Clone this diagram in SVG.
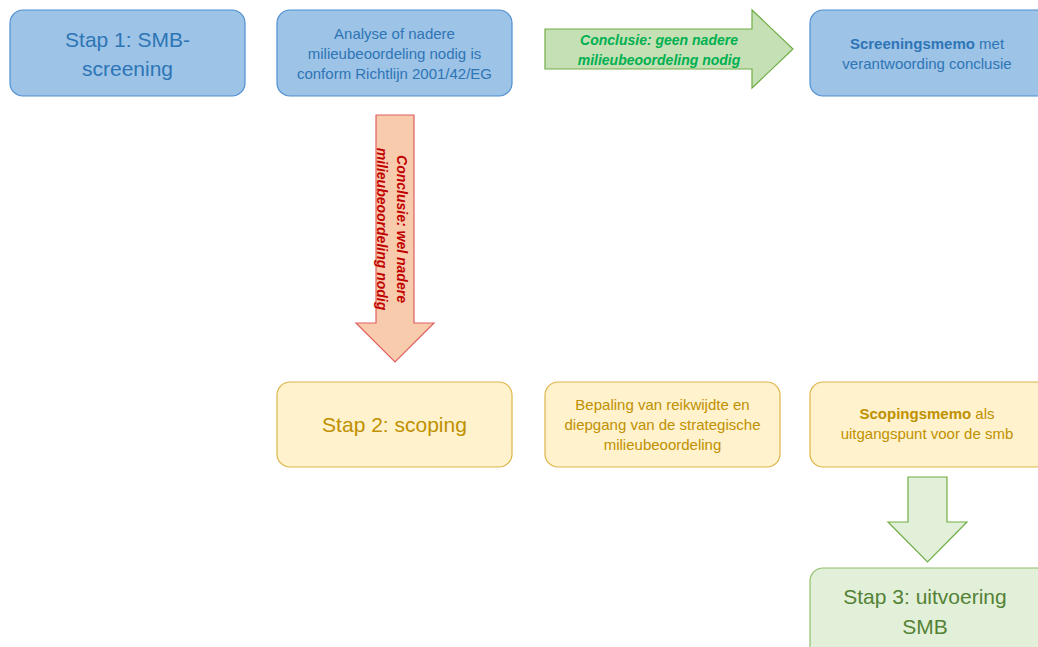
<svg xmlns="http://www.w3.org/2000/svg" width="1038" height="647" viewBox="0 0 1038 647">
<style>
text{font-family:"Liberation Sans",Arial,sans-serif;text-anchor:middle}
.blue rect{fill:#9DC3E6;stroke:#4F8FD0;stroke-width:1.2}
.blue text{fill:#2E75B6}
.yel rect{fill:#FFF2CC;stroke:#DDB54A;stroke-width:1.2}
.yel text{fill:#BF9000}
.grn rect{fill:#E2F0D9;stroke:#8FBF6A;stroke-width:1.2}
.grn text{fill:#548235}
.big{font-size:21px}
.sm{font-size:15px}
.lbl{font-size:14px;font-weight:bold;font-style:italic}
</style>
<rect width="1038" height="647" fill="#FFFFFF"/>
<g id="connectors">
<g id="arrow-geen">
<polygon points="545,29 752,29 752,10 793,49 752,88 752,69 545,69" fill="#C5E0B4" stroke="#70AD47" stroke-width="1.2"/>
<text class="lbl" x="659" y="45" fill="#00B050">Conclusie: geen nadere</text>
<text class="lbl" x="659" y="65" fill="#00B050">milieubeoordeling nodig</text>
</g>
<g id="arrow-wel">
<polygon points="376,115 414,115 414,323 434,323 395,362 356,323 376,323" fill="#F8CBAD" stroke="#E06060" stroke-width="1.2"/>
<g transform="translate(392,229) rotate(90)">
<text class="lbl" x="0" y="-5" fill="#C00000">Conclusie: wel nadere</text>
<text class="lbl" x="0" y="15" fill="#C00000">milieubeoordeling nodig</text>
</g>
</g>
<g id="arrow-down">
<polygon points="908,477 947,477 947,522 967,522 927.5,562 888,522 908,522" fill="#E2F0D9" stroke="#70AD47" stroke-width="1.2"/>
</g>
</g>
<g id="stap1" class="blue">
<rect x="10" y="10" width="235" height="86" rx="13"/>
<text class="big" x="127.5" y="47">Stap 1: SMB-</text>
<text class="big" x="127.5" y="76">screening</text>
</g>
<g id="analyse" class="blue">
<rect x="277" y="10" width="235" height="86" rx="13"/>
<text class="sm" x="394.5" y="39">Analyse of nadere</text>
<text class="sm" x="394.5" y="59">milieubeoordeling nodig is</text>
<text class="sm" x="394.5" y="79">conform Richtlijn 2001/42/EG</text>
</g>
<g id="screeningsmemo" class="blue">
<rect x="810" y="10" width="240" height="86" rx="13"/>
<text class="sm" x="927" y="49"><tspan font-weight="bold">Screeningsmemo</tspan> met</text>
<text class="sm" x="927" y="69">verantwoording conclusie</text>
</g>
<g id="stap2" class="yel">
<rect x="277" y="382" width="235" height="85" rx="13"/>
<text class="big" x="394.5" y="432">Stap 2: scoping</text>
</g>
<g id="bepaling" class="yel">
<rect x="545" y="382" width="235" height="85" rx="13"/>
<text class="sm" x="662.5" y="410">Bepaling van reikwijdte en</text>
<text class="sm" x="662.5" y="430">diepgang van de strategische</text>
<text class="sm" x="662.5" y="450">milieubeoordeling</text>
</g>
<g id="scopingsmemo" class="yel">
<rect x="810" y="382" width="240" height="85" rx="13"/>
<text class="sm" x="927" y="419"><tspan font-weight="bold">Scopingsmemo</tspan> als</text>
<text class="sm" x="927" y="439">uitgangspunt voor de smb</text>
</g>
<g id="stap3" class="grn">
<rect x="810" y="568" width="240" height="100" rx="13"/>
<text class="big" x="925" y="604">Stap 3: uitvoering</text>
<text class="big" x="925" y="634">SMB</text>
</g>
</svg>
